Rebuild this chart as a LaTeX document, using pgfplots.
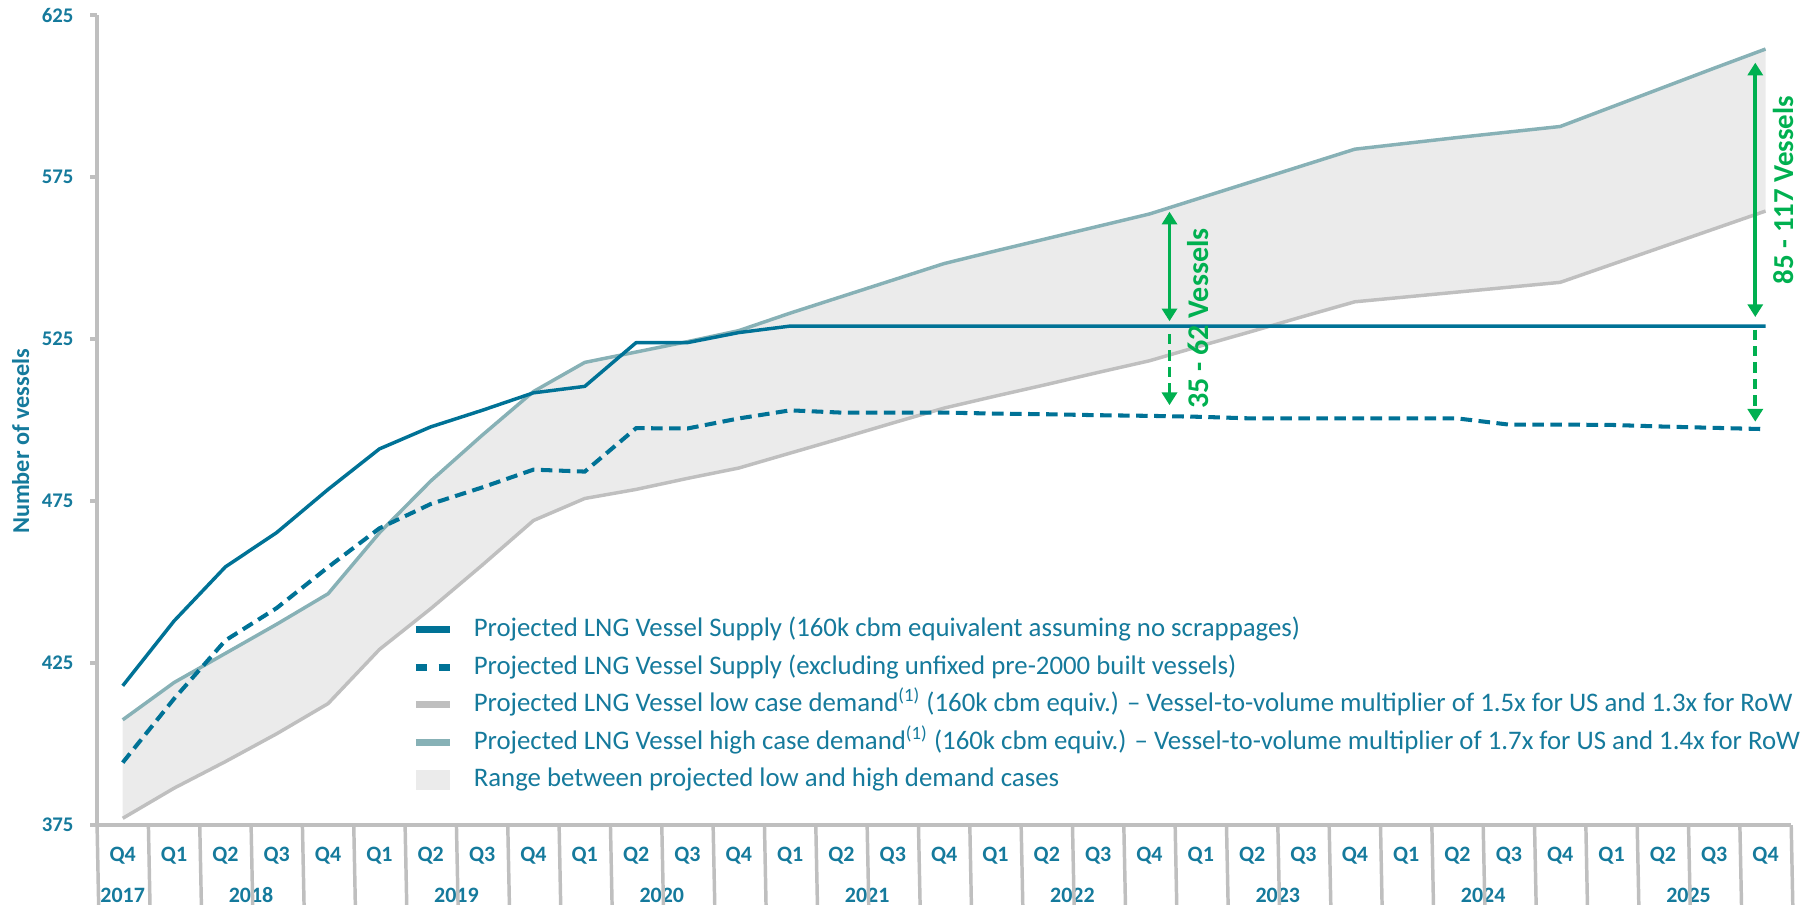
\documentclass[border=0pt]{standalone}
\usepackage{fontspec}
\setmainfont{Carlito}
\usepackage{pgfplots}
\pgfplotsset{compat=1.18}
\usepackage{pgfplotstable}
\usepgfplotslibrary{fillbetween}
\usetikzlibrary{arrows.meta}
\definecolor{supply}{HTML}{007296}
\definecolor{txt}{HTML}{157A9C}
\definecolor{highc}{HTML}{87B1B6}
\definecolor{lowc}{HTML}{BFBFBF}
\definecolor{fillc}{HTML}{EBEBEB}
\definecolor{axisc}{HTML}{BFBFBF}
\definecolor{grn}{HTML}{00B050}

\pgfplotstableread{
x sup exc low high
0 418 394.3 377.1 407.5
1 438 414 386.4 419
2 454.7 432 394.6 428
3 465.3 442 403.2 437
4 478.6 454.6 412.5 446.4
5 491.1 466.6 429.2 465.2
6 497.9 474.1 441.8 481.2
7 503 479.2 455.2 495.3
8 508.4 484.7 469 508.8
9 510.4 484.1 475.8 517.8
10 523.9 497.5 478.6 521
11 523.9 497.4 482 524.2
12 527 500.5 485.2 527.6
13 529 503 489.8 533
14 529 502.3 494.4 538.1
15 529 502.3 499.1 543.2
16 529 502.3 503.7 548.3
17 529 502 507.4 552.2
18 529 501.8 511 556
19 529 501.5 514.7 559.8
20 529 501.3 518.3 563.6
21 529 501 522.9 568.6
22 529 500.5 527.4 573.6
23 529 500.5 532 578.6
24 529 500.5 536.5 583.6
25 529 500.5 538 585.4
26 529 500.5 539.5 587.2
27 529 498.6 541 588.9
28 529 498.6 542.5 590.6
29 529 498.5 548 596.6
30 529 498 553.5 602.6
31 529 497.6 559 608.6
32 529 497.2 564.5 614.5
}\data

\begin{document}
\begin{tikzpicture}
\begin{axis}[
  at={(42pt,34.5pt)}, anchor=south west,
  scale only axis, width=733pt, height=350.5pt,
  set layers,
  xmin=-0.5, xmax=32.5, ymin=375, ymax=625,
  axis x line*=bottom, axis y line*=left,
  axis line style={draw=axisc, line width=1.5pt, -},
  clip=false,
  /pgf/number format/assume math mode=true,
  ytick={375,425,475,525,575,625},
  yticklabel style={font=\fontsize{9}{10}\selectfont\bfseries, text=txt, anchor=east, inner sep=0pt, xshift=-7pt},
  y tick style={draw=axisc, line width=1.5pt},
  tick align=outside, major tick length=3pt,
  xtick={0,...,32},
  xticklabels={Q4,Q1,Q2,Q3,Q4,Q1,Q2,Q3,Q4,Q1,Q2,Q3,Q4,Q1,Q2,Q3,Q4,Q1,Q2,Q3,Q4,Q1,Q2,Q3,Q4,Q1,Q2,Q3,Q4,Q1,Q2,Q3,Q4},
  x tick style={draw=none},
  xticklabel style={font=\fontsize{9.5}{11}\selectfont\bfseries, text=txt, anchor=base, inner sep=0pt, yshift=-12.8pt},
  extra x ticks={0,2.5,6.5,10.5,14.5,18.5,22.5,26.5,30.5},
  extra x tick labels={2017,2018,2019,2020,2021,2022,2023,2024,2025},
  extra x tick style={tickwidth=0pt, xticklabel style={yshift=-20.6pt}},
  ylabel={Number of vessels},
  ylabel style={at={([xshift=-33pt]rel axis cs:0,0.4736)}, anchor=center, font=\fontsize{10.5}{12}\selectfont\bfseries, text=txt},
  legend style={at={(0.1862,0.2568)}, anchor=north west, draw=none, fill=none, inner sep=0pt, outer sep=0pt,
    font=\fontsize{11.6}{13}\selectfont, text=txt, row sep=5.25pt,
    nodes={inner sep=0pt, text height=8.5pt, text depth=2.5pt},
    /tikz/every odd column/.append style={column sep=9pt}},
  legend cell align=left,
]
\addplot[name path=H, draw=highc, line width=1.5pt, line join=round, forget plot] table[x=x,y=high]{\data};
\addplot[name path=L, draw=lowc, line width=1.5pt, line join=round, forget plot] table[x=x,y=low]{\data};
\addplot[fill=fillc, draw=none, forget plot] fill between[of=H and L];
\addplot[supply, line width=1.5pt, line join=round, forget plot] table[x=x,y=sup]{\data};
\addplot[supply, line width=1.75pt, dash pattern=on 5pt off 2.8pt, forget plot] table[x=x,y=exc]{\data};

\addlegendimage{legend image code/.code={\draw[supply, line width=3pt] (0pt,0pt) -- (14.5pt,0pt);}}
\addlegendentry{Projected LNG Vessel Supply (160k cbm equivalent assuming no scrappages)}
\addlegendimage{legend image code/.code={\draw[supply, line width=3pt, dash pattern=on 4.75pt off 5pt] (0pt,0pt) -- (14.5pt,0pt);}}
\addlegendentry{Projected LNG Vessel Supply (excluding unfixed pre-2000 built vessels)}
\addlegendimage{legend image code/.code={\draw[lowc, line width=3pt] (0pt,0pt) -- (14.5pt,0pt);}}
\addlegendentry{Projected LNG Vessel low case demand\textsuperscript{(1)} (160k cbm equiv.) \textendash{} Vessel-to-volume multiplier of 1.5x for US and 1.3x for RoW}
\addlegendimage{legend image code/.code={\draw[highc, line width=3pt] (0pt,0pt) -- (14.5pt,0pt);}}
\addlegendentry{Projected LNG Vessel high case demand\textsuperscript{(1)} (160k cbm equiv.) \textendash{} Vessel-to-volume multiplier of 1.7x for US and 1.4x for RoW}
\addlegendimage{legend image code/.code={\fill[fillc] (0pt,-4.1pt) rectangle (14.5pt,4.1pt);}}
\addlegendentry{Range between projected low and high demand cases}

% category table
\pgfplotsinvokeforeach{1.5,2.5,3.5,5.5,6.5,7.5,9.5,10.5,11.5,13.5,14.5,15.5,17.5,18.5,19.5,21.5,22.5,23.5,25.5,26.5,27.5,29.5,30.5,31.5}{
  \draw[axisc, line width=1.5pt] (axis cs:#1,375) -- ++(0,-16.5pt);
}
\pgfplotsinvokeforeach{-0.5,0.5,4.5,8.5,12.5,16.5,20.5,24.5,28.5,32.5}{
  \draw[axisc, line width=1.5pt] (axis cs:#1,375) -- ++(0,-36pt);
}

% annotations
\draw[grn, line width=1.7pt, {Triangle[width=6.5pt,length=5.5pt]}-{Triangle[width=6.5pt,length=5.5pt]}] (axis cs:20.39,530.5) -- (axis cs:20.39,564.3);
\draw[grn, line width=1.7pt, dash pattern=on 4.5pt off 2.6pt, -{Triangle[width=6.5pt,length=5.5pt]}] (axis cs:20.39,526.6) -- (axis cs:20.39,504.6);
\node[rotate=90, text=grn, font=\fontsize{13}{15}\selectfont\bfseries] at (axis cs:20.94,531.3) {35 - 62 Vessels};
\draw[grn, line width=1.7pt, {Triangle[width=6.5pt,length=5.5pt]}-{Triangle[width=6.5pt,length=5.5pt]}] (axis cs:31.8,531.8) -- (axis cs:31.8,610.3);
\draw[grn, line width=1.7pt, dash pattern=on 4.5pt off 2.6pt, -{Triangle[width=6.5pt,length=5.5pt]}] (axis cs:31.8,527.9) -- (axis cs:31.8,499.5);
\node[rotate=90, text=grn, font=\fontsize{12.5}{14}\selectfont\bfseries] at (axis cs:32.34,571) {85 - 117 Vessels};
\end{axis}
\pgfresetboundingbox
\useasboundingbox (0,0) rectangle (784pt,391.5pt);
\end{tikzpicture}
\end{document}
